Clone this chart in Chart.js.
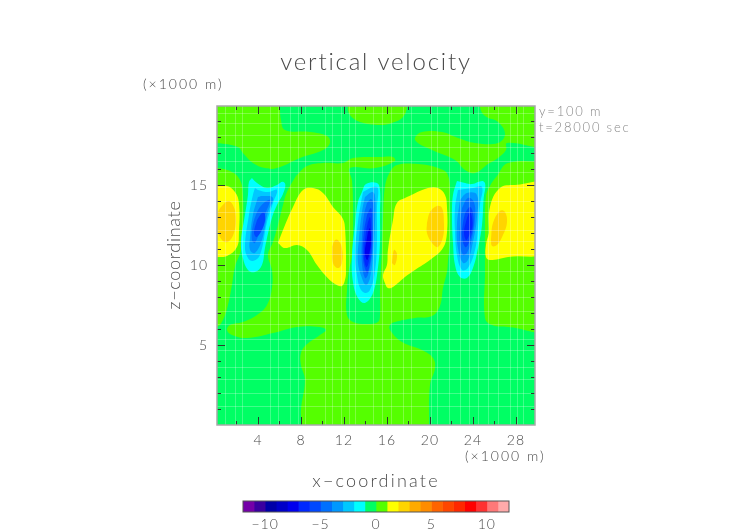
<!DOCTYPE html>
<html>
<head>
<meta charset="utf-8">
<title>vertical velocity</title>
<script src="https://cdn.jsdelivr.net/npm/chart.js@4"></script>
<style>
  body { margin: 0; background: #fff; }
  #wrap { position: relative; width: 752px; height: 532px; overflow: hidden; }
  canvas { position: absolute; left: 0; }
</style>
</head>
<body>
<div id="wrap">
  <canvas id="mainChart" width="752" height="532" style="top:0"></canvas>
  <canvas id="barChart" width="752" height="42" style="top:490px"></canvas>
</div>
<script>
// axis ticks (x and z in units of 1000 m)
const xTicks = [4, 8, 12, 16, 20, 24, 28];
const xMinorTicks = [2, 6, 10, 14, 18, 22, 26];
const zTicks = [5, 10, 15];
const zMinorTicks = [1, 2, 3, 4, 6, 7, 8, 9, 11, 12, 13, 14, 16, 17, 18, 19];

// faint model grid lines
const gridX = [0.9, 1.9, 2.5, 5.1, 5.9, 7.0, 7.7, 8.4, 10.2, 10.9, 11.7, 12.5, 13.0, 14.7, 15.5, 16.4, 17.5, 18.2, 20.1, 20.7, 21.8, 22.8, 23.6, 24.5, 25.4, 26.3, 27.4, 28.1, 28.7];
const gridZ = [1.2, 2.0, 2.9, 3.6, 4.7, 5.4, 6.3, 7.1, 8.0, 8.8, 9.6, 10.7, 11.5, 12.2, 13.3, 14.0, 14.9, 15.8, 16.5, 17.4, 18.1, 18.9, 19.5];

// colour bands, one per unit of velocity
const bandStart = [-12, -11, -10, -9, -8, -7, -6, -5, -4, -3, -2, -1, 0, 1, 2, 3, 4, 5, 6, 7, 8, 9, 10, 11];
const bandColor = ['#7400a8', '#3a00a0', '#0000a8', '#0000c8', '#0000ee', '#0028ff', '#0048ff', '#0070ff', '#0098ff', '#00c8ff', '#00ffff', '#00ff64', '#55ff00', '#ffff00', '#ffd400', '#ffaa00', '#ff8c00', '#ff6400', '#ff4600', '#ff2800', '#ff0000', '#ff3232', '#ff7878', '#ffaaaa'];
const barTicks = [-10, -5, 0, 5, 10];

// contour outlines [x, z]
const plotBox = [[-1, -1], [31, -1], [31, 21], [-1, 21]];

const limeTopLeft = [[-1,21],[6.05,21],[6.05,19.9],[6.14,19.06],[6.51,18.44],[8.84,18.31],[10.42,18.06],[10.7,17.63],[10.05,17.19],[7.91,16.69],[5.77,16.06],[4.65,16.06],[3.53,16.38],[2.6,17.0],[2.14,17.38],[0.19,17.63],[-1,17.65]];
const limeTopMid = [[12.37,21],[12.37,19.88],[12.56,19.38],[13.49,18.94],[15.35,18.75],[16.47,18.88],[17.49,19.25],[17.86,19.88],[17.86,21]];
const limeUpperRight = [[24.65,21],[31,21],[31,17.56],[27.16,17.63],[27.07,17.19],[26.33,16.69],[25.4,16.31],[24.19,15.75],[23.26,15.94],[22.33,16.56],[20.19,17.19],[18.88,17.63],[18.6,17.94],[19.26,18.31],[21.12,18.31],[22.6,17.94],[24.19,17.63],[26.33,17.63],[26.98,18.19],[26.33,18.94],[25.12,19.31],[24.65,19.88]];
const limeLeft = [[-1,16.06],[0.19,16.06],[1.58,15.81],[2.33,15.31],[2.6,14.38],[2.6,12.19],[2.42,10.94],[1.86,9.88],[1.58,8.75],[1.21,7.5],[0.74,6.56],[0.19,6.13],[-1,6.1]];
const limeRight = [[31,16.44],[27.26,16.38],[26.23,15.56],[25.58,14.94],[25.21,14.31],[25.12,12.19],[25.12,9.56],[25.12,6.69],[25.77,6.25],[27.26,6.13],[31,6.13]];
const limeMiddle = [[7.53,15.56],[8.56,16.19],[10.05,16.38],[11.91,16.38],[12.84,16.69],[15.35,16.75],[16.56,16.75],[16.74,16.5],[14.88,16.06],[12.56,16.06],[12.74,15.31],[12.84,14.06],[12.84,12.0],[12.74,10.5],[12.47,9.69],[12.28,8.44],[12.28,6.88],[12.84,6.44],[14.14,6.31],[15.16,6.44],[15.35,6.88],[15.35,8.56],[15.44,9.69],[15.53,10.94],[15.63,12.81],[15.81,14.88],[16.28,15.81],[16.93,16.25],[18.88,16.31],[20.74,16.06],[21.67,15.63],[21.86,14.06],[21.86,11.56],[21.67,10.19],[21.58,9.56],[21.21,8.56],[20.93,7.44],[20.19,6.81],[18.6,6.69],[16.74,6.44],[16.28,6.25],[16.28,5.94],[17.4,5.19],[19.26,4.69],[20.28,4.19],[20.47,3.56],[20.0,2.5],[19.91,0],[19.91,-0.5],[8.09,-0.5],[8.09,0],[8.0,0.94],[8.37,2.81],[8.0,3.75],[8.0,4.5],[8.47,5.0],[9.77,5.63],[10.33,5.94],[9.77,6.13],[7.63,6.13],[5.4,5.75],[2.98,5.44],[1.58,5.63],[1.12,5.94],[1.4,6.25],[2.6,6.44],[3.91,6.88],[4.84,7.5],[5.3,8.56],[5.3,9.69],[4.93,10.63],[5.4,11.44],[5.86,12.5],[6.33,13.75],[6.7,14.56]];

const yellowA = [[-1,14.94],[1.12,14.94],[1.86,14.56],[2.23,13.88],[2.23,12.0],[2.05,11.13],[1.12,10.56],[0.19,10.5],[-1,10.5]];
const goldA = [[0.47,13.56],[1.21,14.0],[1.67,13.75],[1.95,13.0],[1.77,12.0],[1.21,11.44],[0.65,11.56],[0.28,12.19],[0.28,13.25]];
const yellowB = [[5.86,11.38],[6.33,12.19],[7.26,13.63],[8.19,14.69],[9.12,14.81],[10.05,14.5],[10.98,13.63],[11.81,13.0],[12.09,12.38],[12.19,9.56],[12.09,9.06],[11.81,8.69],[11.16,8.81],[10.23,9.38],[9.49,10.0],[8.56,10.94],[7.63,11.25],[6.51,11.06]];
const goldB = [[10.88,11.13],[11.16,11.56],[11.44,11.56],[11.81,11.06],[11.81,10.13],[11.44,9.81],[10.98,10.13]];
const yellowC = [[17.86,14.25],[19.81,14.81],[20.74,14.81],[21.4,14.38],[21.58,13.63],[21.58,12.0],[21.21,11.06],[20.0,10.31],[18.6,9.69],[17.67,9.25],[16.56,8.63],[16.09,8.56],[15.81,8.88],[15.63,9.38],[16.0,10.0],[16.09,10.94],[16.56,12.81],[16.93,13.88]];
const goldC = [[19.72,12.63],[20.0,13.31],[20.65,13.69],[21.12,13.56],[21.3,12.63],[21.21,11.75],[20.74,11.13],[20.19,11.38],[19.72,12.0]];
const goldD = [[16.47,10.13],[16.65,10.94],[16.93,10.69],[16.74,10.0]];
const yellowD = [[25.49,12.0],[25.58,13.63],[26.51,14.81],[27.91,15.0],[31,15],[31,10.94],[27.26,10.5],[25.58,10.31],[25.21,10.5],[25.21,11.25]];
const goldE = [[25.67,11.56],[25.86,12.63],[26.51,13.38],[26.98,13.31],[27.16,12.63],[26.79,11.88],[26.23,11.25],[25.77,11.19]];

// downdraft at x = 4
const west2 = [[3.44,15.44],[3.91,15.13],[4.84,14.81],[5.77,15.0],[6.3,15.2],[6.55,15.0],[6.3,14.4],[5.86,13.88],[5.3,12.94],[4.65,11.06],[4.37,10.0],[3.72,9.56],[3.07,9.69],[2.6,10.44],[2.42,11.44],[2.79,13.13],[3.07,14.38],[3.16,15.19]];
const west3 = [[3.72,14.81],[4.0,14.69],[4.93,14.56],[5.77,14.69],[5.4,13.88],[4.84,12.69],[4.19,10.63],[3.53,10.25],[3.07,10.44],[2.79,11.13],[3.16,13.13],[3.53,14.38]];
const west4 = [[4.0,14.25],[4.47,14.31],[5.4,14.19],[4.93,13.31],[4.37,11.56],[3.72,10.75],[3.26,10.94],[3.26,11.69],[3.53,13.13]];
const west5 = [[4.19,13.63],[4.65,13.94],[5.12,14.06],[4.65,13.13],[4.37,12.5],[3.72,11.38],[3.44,11.56],[3.53,12.5],[3.91,13.31]];
const west6 = [[3.91,12.81],[4.37,13.25],[4.65,13.19],[4.56,12.5],[3.91,11.75],[3.63,12.0]];

// downdraft at x = 14
const mid2 = [[13.67,14.56],[14.05,15.06],[15.07,15.13],[15.35,14.69],[15.35,13.13],[15.35,11.44],[15.16,9.81],[14.7,8.25],[13.95,7.63],[13.3,7.94],[12.84,8.94],[12.74,10.44],[13.02,12.5],[13.3,13.94]];
const mid3 = [[13.77,14.56],[14.7,14.88],[15.16,14.81],[15.07,13.56],[15.07,11.44],[14.88,9.56],[14.42,8.44],[13.95,8.25],[13.49,8.56],[13.21,9.38],[13.02,10.63],[13.3,12.69],[13.58,13.88]];
const mid4 = [[13.95,14.25],[14.6,14.56],[14.88,14.38],[14.88,12.5],[14.7,10.63],[14.42,9.19],[14.05,8.75],[13.67,9.19],[13.3,10.19],[13.4,11.69],[13.67,13.31]];
const mid5 = [[14.14,13.88],[14.51,14.13],[14.7,13.88],[14.7,12.06],[14.6,10.63],[14.23,9.38],[13.95,9.19],[13.67,10.13],[13.67,11.69],[13.86,13.13]];
const mid6 = [[14.14,13.13],[14.51,13.56],[14.6,13.13],[14.6,11.06],[14.33,9.81],[14.14,9.5],[13.77,10.44],[13.86,12.06]];
const mid7 = [[14.23,12.69],[14.42,13.0],[14.51,12.5],[14.51,11.06],[14.23,10.0],[14.05,9.88],[13.86,10.63],[14.05,12.06]];
const mid8 = [[14.23,12.06],[14.42,12.31],[14.51,11.44],[14.33,10.63],[14.14,10.31],[13.95,10.81],[14.14,11.69]];

// downdraft at x = 24
const east2 = [[22.51,15.25],[23.26,15.13],[23.91,15.06],[24.9,15.25],[25.15,15.0],[25.0,14.2],[24.84,12.5],[24.47,11.06],[24.0,9.81],[23.44,9.19],[22.79,9.25],[22.33,10.0],[22.14,11.44],[22.05,13.13],[22.14,14.38]];
const east3 = [[22.6,14.69],[23.26,14.75],[24.0,14.81],[24.84,14.88],[24.65,13.75],[24.47,12.31],[24.19,10.94],[23.53,9.81],[22.98,9.69],[22.51,10.63],[22.33,12.06],[22.33,13.56]];
const east4 = [[22.79,14.06],[23.44,14.5],[24.37,14.38],[24.37,12.94],[24.0,11.44],[23.53,10.31],[23.07,10.13],[22.6,11.06],[22.51,12.5]];
const east5 = [[22.98,13.56],[23.53,14.19],[24.09,13.94],[24.19,12.94],[23.91,11.69],[23.44,10.75],[23.07,10.63],[22.79,11.44],[22.79,12.5]];
const east6 = [[23.26,13.25],[23.72,13.63],[24.0,13.25],[24.0,12.31],[23.53,11.25],[23.26,11.13],[22.98,11.75],[23.07,12.63]];
const east7 = [[23.44,12.94],[23.72,13.31],[23.91,12.94],[23.91,12.31],[23.53,11.69],[23.35,11.56],[23.16,12.06]];

// painted bottom to top: [band start, outline]
const layers = [
    [-1, plotBox],
    [0, limeTopLeft], [0, limeTopMid], [0, limeUpperRight], [0, limeLeft], [0, limeRight], [0, limeMiddle],
    [1, yellowA], [1, yellowB], [1, yellowC], [1, yellowD],
    [2, goldA], [2, goldB], [2, goldC], [2, goldD], [2, goldE],
    [-2, west2], [-3, west3], [-4, west4], [-5, west5], [-6, west6],
    [-2, mid2], [-3, mid3], [-4, mid4], [-5, mid5], [-6, mid6], [-7, mid7], [-8, mid8],
    [-2, east2], [-3, east3], [-4, east4], [-5, east5], [-6, east6], [-7, east7]
];

const FONT = 'Lato, "Liberation Sans", sans-serif';
const INK = '#4a4a4a';

function colorOf(level) {
    return bandColor[bandStart.indexOf(level)];
}

// Chart.js paints the first dataset last, so the list goes in reversed
const contourSets = layers.map(function (layer) {
    const pts = layer[1].map(p => ({ x: p[0], y: p[1] }));
    pts.push(pts[0]);
    return {
        data: pts,
        showLine: true,
        fill: 'shape',
        backgroundColor: colorOf(layer[0]),
        borderWidth: 0,
        pointRadius: 0,
        tension: layer[1] === plotBox ? 0 : 0.4,
        capBezierPoints: false
    };
}).reverse();

// grid, frame, inward ticks and free text on top of the contours
const framePlugin = {
    id: 'frame',
    beforeDraw(chart) {
        chart.ctx.letterSpacing = '1px';
    },
    afterDatasetsDraw(chart) {
        const ctx = chart.ctx, a = chart.chartArea;
        const sx = chart.scales.x, sy = chart.scales.y;
        ctx.save();
        ctx.strokeStyle = 'rgba(255,255,255,0.25)';
        ctx.lineWidth = 1;
        gridX.forEach(function (v) {
            const p = Math.round(sx.getPixelForValue(v)) + 0.5;
            ctx.beginPath(); ctx.moveTo(p, a.top); ctx.lineTo(p, a.bottom); ctx.stroke();
        });
        gridZ.forEach(function (v) {
            const p = Math.round(sy.getPixelForValue(v)) + 0.5;
            ctx.beginPath(); ctx.moveTo(a.left, p); ctx.lineTo(a.right, p); ctx.stroke();
        });
        ctx.strokeStyle = '#2c3a2c';
        function xTick(v, len) {
            const p = Math.round(sx.getPixelForValue(v)) + 0.5;
            ctx.beginPath();
            ctx.moveTo(p, a.top); ctx.lineTo(p, a.top + len);
            ctx.moveTo(p, a.bottom); ctx.lineTo(p, a.bottom - len);
            ctx.stroke();
        }
        function zTick(v, len) {
            const p = Math.round(sy.getPixelForValue(v)) + 0.5;
            ctx.beginPath();
            ctx.moveTo(a.left, p); ctx.lineTo(a.left + len, p);
            ctx.moveTo(a.right, p); ctx.lineTo(a.right - len, p);
            ctx.stroke();
        }
        xTicks.forEach(v => xTick(v, 8));
        xMinorTicks.forEach(v => xTick(v, 4));
        zTicks.forEach(v => zTick(v, 8));
        zMinorTicks.forEach(v => zTick(v, 4));
        ctx.strokeStyle = '#a8a8a8';
        ctx.lineWidth = 1.5;
        ctx.strokeRect(a.left, a.top, a.right - a.left, a.bottom - a.top);
        ctx.restore();
    },
    afterDraw(chart) {
        const ctx = chart.ctx;
        function put(text, x, y, size, spacing, color, align, angle) {
            ctx.save();
            ctx.translate(x, y);
            if (angle) ctx.rotate(angle);
            ctx.font = '300 ' + size + 'px ' + FONT;
            ctx.letterSpacing = spacing + 'px';
            ctx.fillStyle = color;
            ctx.textAlign = align;
            ctx.textBaseline = 'middle';
            ctx.fillText(text, 0, 0);
            ctx.restore();
        }
        put('vertical velocity', 376, 62, 24, 1.8, INK, 'center');
        put('x\u2212coordinate', 376, 481, 18, 2.2, INK, 'center');
        put('z\u2212coordinate', 174, 255, 18, 0.7, INK, 'center', -Math.PI / 2);
        put('(\u00d71000 m)', 143, 84, 14, 2, INK, 'left');
        put('(\u00d71000 m)', 465, 456, 14, 2, INK, 'left');
        put('y=100 m', 539, 112, 13, 1.8, '#8a8a8a', 'left');
        put('t=28000 sec', 539, 128, 13, 1.8, '#8a8a8a', 'left');
    }
};

new Chart(document.getElementById('mainChart'), {
    type: 'scatter',
    data: { datasets: contourSets },
    plugins: [framePlugin],
    options: {
        responsive: false,
        animation: false,
        events: [],
        layout: { padding: { top: 106, right: 217, left: 0, bottom: 0 } },
        plugins: { legend: { display: false }, tooltip: { enabled: false } },
        scales: {
            x: {
                type: 'linear', min: 0.19, max: 29.77,
                grid: { display: false, drawTicks: false }, border: { display: false },
                afterBuildTicks(scale) { scale.ticks = xTicks.map(v => ({ value: v })); },
                afterFit(scale) { scale.height = 107; },
                ticks: { color: INK, padding: 7, maxRotation: 0, autoSkip: false, font: { family: FONT, size: 14, weight: '300' }, callback: v => String(v) }
            },
            y: {
                type: 'linear', min: 0, max: 19.94,
                grid: { display: false, drawTicks: false }, border: { display: false },
                afterBuildTicks(scale) { scale.ticks = zTicks.map(v => ({ value: v })); },
                afterFit(scale) { scale.width = 217; },
                ticks: { color: INK, padding: 9, autoSkip: false, font: { family: FONT, size: 14, weight: '300' }, callback: v => String(v) }
            }
        }
    }
});

// colour bar under the plot
const barSets = bandStart.map((s, i) => ({
    data: [[s, s + 1]],
    backgroundColor: bandColor[i],
    borderWidth: 0,
    barPercentage: 1,
    categoryPercentage: 1,
    grouped: false
}));

const barFrame = {
    id: 'barFrame',
    beforeDraw(chart) {
        chart.ctx.letterSpacing = '1px';
    },
    afterDatasetsDraw(chart) {
        const ctx = chart.ctx, a = chart.chartArea;
        ctx.save();
        ctx.strokeStyle = '#555';
        ctx.lineWidth = 1;
        ctx.strokeRect(a.left, a.top, a.right - a.left, a.bottom - a.top);
        ctx.restore();
    }
};

new Chart(document.getElementById('barChart'), {
    type: 'bar',
    data: { labels: [''], datasets: barSets },
    plugins: [barFrame],
    options: {
        indexAxis: 'y',
        responsive: false,
        animation: false,
        events: [],
        layout: { padding: { top: 11, right: 243, left: 0, bottom: 0 } },
        plugins: { legend: { display: false }, tooltip: { enabled: false } },
        scales: {
            x: {
                type: 'linear', min: -12, max: 12,
                grid: { display: false, drawTicks: false }, border: { display: false },
                afterBuildTicks(scale) { scale.ticks = barTicks.map(v => ({ value: v })); },
                afterFit(scale) { scale.height = 20; },
                ticks: { color: INK, padding: 4, maxRotation: 0, autoSkip: false, font: { family: FONT, size: 14, weight: '300' }, callback: v => String(v).replace('-', '\u2212') }
            },
            y: {
                grid: { display: false, drawTicks: false }, border: { display: false },
                afterFit(scale) { scale.width = 243; },
                ticks: { display: false }
            }
        }
    }
});
</script>
</body>
</html>
